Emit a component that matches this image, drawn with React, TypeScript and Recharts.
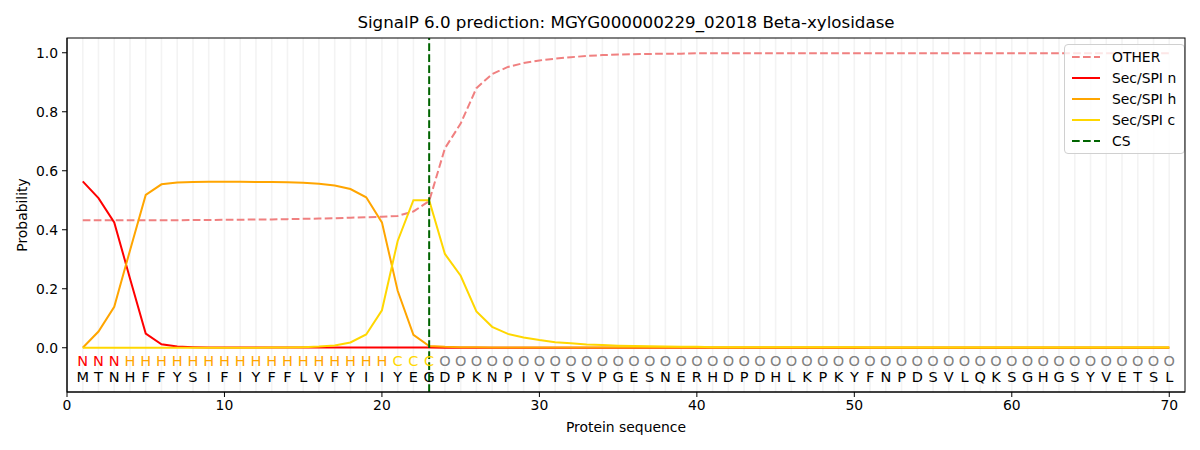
import React from "react";
import { Legend, Line, LineChart, ReferenceLine, XAxis, YAxis } from "recharts";

const sequence = "MTNHFFYSIFIYFFLVFYIIYEGDPKNPIVTSVPGESNERHDPDHLKPKYFNPDSVLQKSGHGSYVETSL".split("");
const regions = "NNNHHHHHHHHHHHHHHHHHCCCOOOOOOOOOOOOOOOOOOOOOOOOOOOOOOOOOOOOOOOOOOOOOOO".split("");

const otherProb = [
  0.432, 0.432, 0.432, 0.432, 0.432, 0.432, 0.432, 0.433, 0.433, 0.434,
  0.434, 0.435, 0.435, 0.436, 0.437, 0.438, 0.439, 0.441, 0.442, 0.444,
  0.447, 0.462, 0.497, 0.676, 0.76, 0.88, 0.928, 0.952, 0.965, 0.974,
  0.98, 0.985, 0.989, 0.992, 0.994, 0.995, 0.996, 0.997, 0.997, 0.998,
  0.998, 0.998, 0.998, 0.998, 0.998, 0.998, 0.998, 0.998, 0.998, 0.998,
  0.998, 0.998, 0.998, 0.998, 0.998, 0.998, 0.998, 0.998, 0.998, 0.998,
  0.998, 0.998, 0.998, 0.998, 0.998, 0.998, 0.998, 0.998, 0.998, 0.998,
];
const nProb = [
  0.564, 0.507, 0.425, 0.235, 0.048, 0.012, 0.004, 0.002, 0.001, 0.001,
  0.001, 0.001, 0.001, 0.001, 0.001, 0.001, 0.001, 0.001, 0.001, 0.001,
  0.001, 0.001, 0.001, 0, 0, 0, 0, 0, 0, 0,
  0, 0, 0, 0, 0, 0, 0, 0, 0, 0,
  0, 0, 0, 0, 0, 0, 0, 0, 0, 0,
  0, 0, 0, 0, 0, 0, 0, 0, 0, 0,
  0, 0, 0, 0, 0, 0, 0, 0, 0, 0,
];
const hProb = [
  0.0, 0.055, 0.139, 0.33, 0.518, 0.554, 0.56, 0.562, 0.563, 0.563,
  0.563, 0.562, 0.562, 0.561, 0.559, 0.556, 0.55, 0.538, 0.51, 0.425,
  0.193, 0.044, 0.006, 0.003, 0.002, 0.002, 0.001, 0.001, 0.001, 0.001,
  0.001, 0.001, 0.001, 0.001, 0.001, 0.001, 0.001, 0.001, 0.001, 0.001,
  0.001, 0.001, 0.001, 0.001, 0.001, 0.001, 0.001, 0.001, 0.001, 0.001,
  0.001, 0.001, 0.001, 0.001, 0.001, 0.001, 0.001, 0.001, 0.001, 0.001,
  0.001, 0.001, 0.001, 0.001, 0.001, 0.001, 0.001, 0.001, 0.001, 0.001,
];
const cProb = [
  0, 0, 0, 0, 0, 0, 0, 0, 0, 0,
  0, 0, 0.001, 0.001, 0.002, 0.004, 0.008, 0.018, 0.045, 0.127,
  0.362, 0.5, 0.5, 0.318, 0.244, 0.123, 0.071, 0.047, 0.035, 0.026,
  0.019, 0.015, 0.011, 0.009, 0.007, 0.006, 0.005, 0.004, 0.003, 0.003,
  0.002, 0.002, 0.002, 0.002, 0.002, 0.002, 0.002, 0.002, 0.002, 0.002,
  0.001, 0.001, 0.001, 0.001, 0.001, 0.001, 0.001, 0.001, 0.001, 0.001,
  0.001, 0.001, 0.001, 0.001, 0.001, 0.001, 0.001, 0.001, 0.001, 0.001,
];

const cleavageSite = 23;
const xTicks = [0, 10, 20, 30, 40, 50, 60, 70];
const yTicks = [0, 0.2, 0.4, 0.6, 0.8, 1.0];

const FONT = "DejaVu Sans, sans-serif";
const regionColor: Record<string, string> = { N: "#ff0000", H: "#ffa500", C: "#ffd700", O: "#808080" };

// rows of letters sit just under the zero line
const REGION_ROW = -0.046;
const AA_ROW = -0.1;

const data = sequence.map((aa, i) => ({
  pos: i + 1,
  aa,
  region: regions[i],
  other: otherProb[i],
  n: nProb[i],
  h: hProb[i],
  c: cProb[i],
  regionRow: REGION_ROW,
  aaRow: AA_ROW,
}));

const legendItems = [
  { label: "OTHER", color: "#f08080", dash: "7.7 3.3" },
  { label: "Sec/SPI n", color: "#ff0000" },
  { label: "Sec/SPI h", color: "#ffa500" },
  { label: "Sec/SPI c", color: "#ffd700" },
  { label: "CS", color: "#006400", dash: "7.7 3.3" },
];

function LegendBox() {
  return (
    <div
      style={{
        background: "rgba(255,255,255,0.8)",
        border: "1px solid #d0d0d0",
        borderRadius: 4,
        padding: "1px 8px 2px 6px",
        fontFamily: FONT,
        fontSize: 13.9,
        color: "#000",
        whiteSpace: "nowrap",
      }}
    >
      {legendItems.map((it) => (
        <div key={it.label} style={{ display: "flex", alignItems: "center", height: 21 }}>
          <svg width={30} height={10} style={{ marginRight: 11, flex: "none" }}>
            <line x1={1} y1={5} x2={29} y2={5} stroke={it.color} strokeWidth={2} strokeDasharray={it.dash} />
          </svg>
          <span>{it.label}</span>
        </div>
      ))}
    </div>
  );
}

function letterDot(field: "region" | "aa") {
  return (props: any) => {
    const { cx, cy, payload, index } = props;
    const fill = field === "aa" ? "#000" : regionColor[payload.region];
    return (
      <text
        key={`${field}-${index}`}
        x={cx}
        y={cy}
        textAnchor="middle"
        dominantBaseline="central"
        fontFamily={FONT}
        fontSize={14.5}
        fill={fill}
      >
        {payload[field]}
      </text>
    );
  };
}

export default function App() {
  return (
    <div style={{ position: "absolute", left: 0, top: 0, width: 1200, height: 450, background: "#fff" }}>
      <div
        style={{
          position: "absolute",
          left: 67,
          width: 1118,
          top: 12,
          textAlign: "center",
          fontFamily: FONT,
          fontSize: 16.7,
          lineHeight: "20px",
        }}
      >
        SignalP 6.0 prediction: MGYG000000229_02018 Beta-xylosidase
      </div>
      <LineChart width={1200} height={450} data={data} margin={{ top: 38, right: 15, bottom: 0, left: 0 }}>
        {data.map((d) => (
          <ReferenceLine key={`g${d.pos}`} x={d.pos} stroke="#f3f3f3" strokeWidth={1.6} />
        ))}
        <XAxis
          dataKey="pos"
          type="number"
          domain={[0, 71]}
          ticks={xTicks}
          height={58}
          tickSize={5}
          tickMargin={3}
          stroke="#000"
          tick={{ fill: "#000", fontFamily: FONT, fontSize: 13.9 }}
          allowDataOverflow
        />
        <YAxis
          type="number"
          domain={[-0.15, 1.05]}
          ticks={yTicks}
          width={67}
          tickSize={5}
          tickMargin={4}
          stroke="#000"
          tickFormatter={(v: number) => v.toFixed(1)}
          tick={{ fill: "#000", fontFamily: FONT, fontSize: 13.9 }}
          allowDataOverflow
        />
        <Line dataKey="other" stroke="#f08080" strokeWidth={2} strokeDasharray="7.7 3.3" dot={false} isAnimationActive={false} />
        <Line dataKey="n" stroke="#ff0000" strokeWidth={2} dot={false} isAnimationActive={false} />
        <Line dataKey="h" stroke="#ffa500" strokeWidth={2} dot={false} isAnimationActive={false} />
        <Line dataKey="c" stroke="#ffd700" strokeWidth={2} dot={false} isAnimationActive={false} />
        <Line dataKey="regionRow" stroke="none" dot={letterDot("region")} activeDot={false} isAnimationActive={false} legendType="none" />
        <Line dataKey="aaRow" stroke="none" dot={letterDot("aa")} activeDot={false} isAnimationActive={false} legendType="none" />
        <ReferenceLine x={cleavageSite} stroke="#006400" strokeWidth={2} strokeDasharray="7.7 3.3" />
        <Legend
          layout="vertical"
          align="center"
          verticalAlign="middle"
          content={() => <LegendBox />}
          wrapperStyle={{ left: 1064, top: 44, width: "auto", height: "auto" }}
        />
      </LineChart>
      <svg width={1200} height={450} style={{ position: "absolute", left: 0, top: 0, pointerEvents: "none" }}>
        <rect x={67} y={38} width={1118} height={354} fill="none" stroke="#000" strokeWidth={1} />
        <text x={626} y={432} textAnchor="middle" fontFamily={FONT} fontSize={13.9} fill="#000">
          Protein sequence
        </text>
        <text
          x={22}
          y={215}
          transform="rotate(-90 22 215)"
          textAnchor="middle"
          dominantBaseline="central"
          fontFamily={FONT}
          fontSize={13.9}
          fill="#000"
        >
          Probability
        </text>
      </svg>
    </div>
  );
}
